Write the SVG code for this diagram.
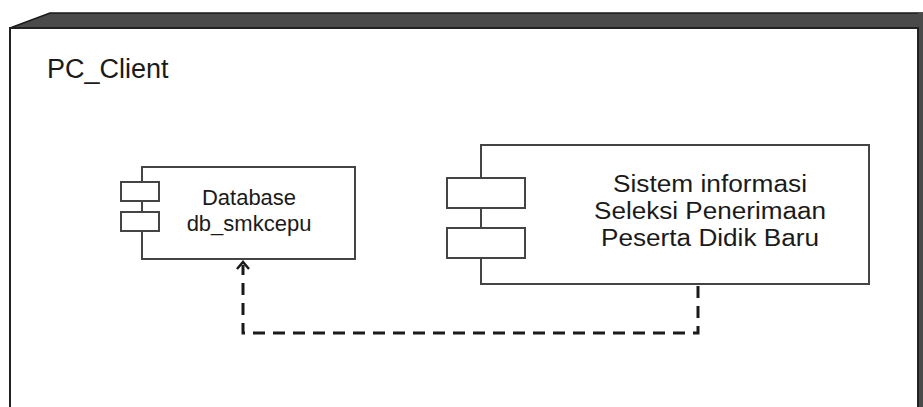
<svg xmlns="http://www.w3.org/2000/svg" width="923" height="407" viewBox="0 0 923 407">
  <style>
    .label { font-family: "Liberation Sans", Arial, sans-serif; fill: #1a1a1a; }
    .comp { fill: #ffffff; stroke: #444444; stroke-width: 2; }
    .dep { fill: none; stroke: #1a1a1a; stroke-width: 3; stroke-dasharray: 12 8; }
    .head { fill: none; stroke: #1a1a1a; stroke-width: 2.5; }
  </style>
  <rect width="923" height="407" fill="#ffffff"/>

  <!-- deployment node: PC_Client (3D box) -->
  <g id="node-pc-client">
    <polygon points="10,28 50,13 923,13 923,28" fill="#4a4a4a" stroke="#1a1a1a" stroke-width="1.5"/>
    <rect x="918" y="13" width="5" height="394" fill="#4a4a4a"/>
    <rect x="10" y="28" width="908" height="390" fill="#ffffff" stroke="#222222" stroke-width="2"/>
    <text class="label" x="47" y="78" font-size="27">PC_Client</text>
  </g>

  <!-- component: database -->
  <g id="comp-database">
    <rect class="comp" x="142" y="167" width="213" height="92"/>
    <rect class="comp" x="121" y="182" width="38" height="19"/>
    <rect class="comp" x="121" y="212" width="38" height="19"/>
    <text class="label" x="249" y="205" font-size="22" text-anchor="middle">Database</text>
    <text class="label" x="249" y="231" font-size="22" text-anchor="middle">db_smkcepu</text>
  </g>

  <!-- component: information system (glyphs widened slightly to fill each line) -->
  <g id="comp-sistem">
    <rect class="comp" x="481" y="145" width="388" height="139"/>
    <rect class="comp" x="447" y="178" width="78" height="30"/>
    <rect class="comp" x="447" y="228" width="78" height="30"/>
    <text class="label" x="710" y="192" font-size="23" text-anchor="middle" textLength="194" lengthAdjust="spacingAndGlyphs">Sistem informasi</text>
    <text class="label" x="710" y="219" font-size="23" text-anchor="middle" textLength="232" lengthAdjust="spacingAndGlyphs">Seleksi Penerimaan</text>
    <text class="label" x="710" y="246" font-size="23" text-anchor="middle" textLength="218" lengthAdjust="spacingAndGlyphs">Peserta Didik Baru</text>
  </g>

  <!-- dependency connector -->
  <g id="connectors">
    <path class="dep" d="M698,286 V333 H243 V265"/>
    <path class="head" d="M237,269 L243,262 L249,269"/>
  </g>
</svg>
